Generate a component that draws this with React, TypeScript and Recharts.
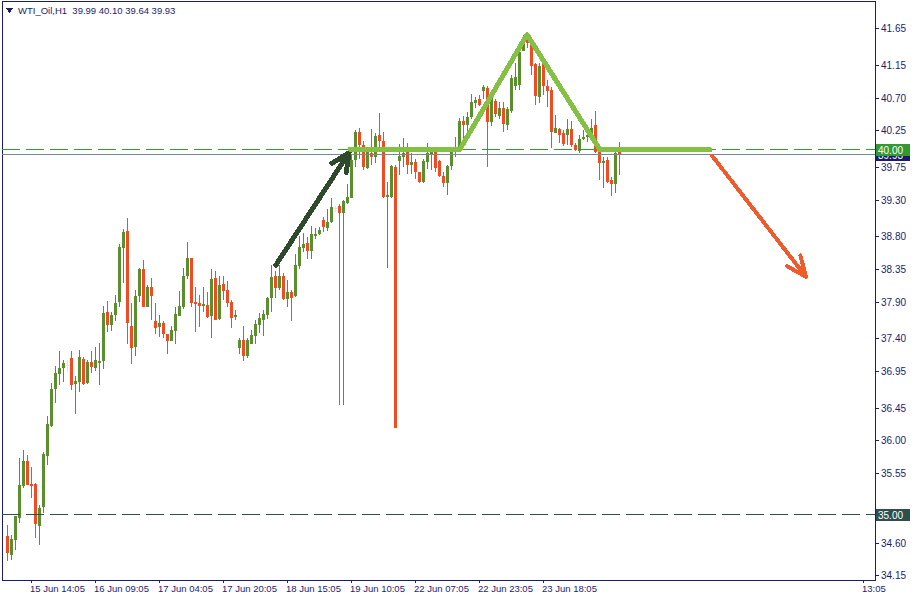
import { ComposedChart, Bar, XAxis, YAxis, ReferenceLine, ReferenceArea } from "recharts";

const opens = [
  34.70, 34.44, 34.64, 34.94, 35.38, 35.73, 35.41, 35.41, 34.84, 35.10,
  35.79, 36.21, 36.71, 36.92, 37.00, 37.04, 37.14, 36.78, 36.81, 37.12,
  36.80, 37.08, 37.00, 37.07, 37.10, 37.77, 37.59, 37.73, 37.91, 38.65,
  38.88, 37.58, 37.29, 37.98, 38.35, 37.84, 38.11, 37.64, 37.56, 37.62,
  37.47, 37.37, 37.51, 37.71, 37.83, 38.26, 38.51, 37.91, 37.89, 37.85,
  37.86, 37.71, 38.24, 37.67, 38.15, 38.07, 37.91, 37.70, 37.28, 37.39,
  37.17, 37.33, 37.44, 37.59, 37.66, 37.73, 37.96, 38.26, 38.10, 38.26,
  37.95, 38.04, 37.98, 38.40, 38.65, 38.71, 38.61, 38.81, 38.84, 39.03,
  38.92, 39.00, 39.19, 39.22, 39.13, 39.26, 39.33, 39.85, 40.24, 40.06,
  39.74, 39.95, 39.89, 40.20, 40.11, 39.35, 39.35, 39.76, 39.84, 39.89,
  39.96, 39.78, 39.83, 39.68, 39.55, 39.83, 39.92, 39.96, 39.84, 39.63,
  39.54, 39.77, 40.02, 40.02, 40.39, 40.33, 40.44, 40.63, 40.69, 40.80,
  40.84, 40.37, 40.66, 40.46, 40.57, 40.33, 40.52, 40.87, 40.88, 41.35,
  41.57, 41.46, 41.17, 40.72, 41.16, 40.87, 40.81, 40.22, 40.28, 40.22,
  40.20, 40.28, 40.06, 39.98, 40.14, 40.17, 40.19, 40.33, 39.96, 39.81,
  39.85, 39.58, 39.52, 39.99,
];

const highs = [
  34.85, 34.71, 34.97, 35.76, 35.88, 35.81, 35.64, 35.43, 35.12, 35.85,
  36.34, 36.79, 37.03, 37.23, 37.11, 37.11, 37.23, 36.89, 37.25, 37.15,
  37.11, 37.23, 37.29, 37.34, 37.85, 37.92, 37.77, 38.00, 38.70, 38.91,
  39.06, 37.89, 38.07, 38.37, 38.48, 38.14, 38.24, 37.89, 37.72, 37.65,
  37.47, 37.58, 37.83, 38.06, 38.37, 38.73, 38.51, 38.11, 38.00, 38.11,
  38.04, 38.36, 38.33, 38.26, 38.26, 38.19, 37.93, 37.80, 37.41, 37.58,
  37.41, 37.52, 37.66, 37.75, 37.80, 37.97, 38.41, 38.33, 38.41, 38.30,
  38.21, 38.07, 38.56, 38.81, 38.85, 38.80, 38.95, 38.92, 38.93, 39.07,
  39.18, 39.33, 39.22, 39.25, 39.30, 39.52, 39.92, 40.26, 40.29, 40.11,
  40.00, 40.28, 40.22, 40.50, 40.24, 39.55, 39.78, 39.78, 40.07, 40.15,
  40.09, 39.95, 39.86, 39.69, 39.86, 40.09, 40.03, 39.98, 39.85, 39.69,
  39.78, 40.02, 40.17, 40.43, 40.45, 40.51, 40.76, 40.72, 40.74, 40.88,
  40.87, 40.81, 40.69, 40.64, 40.64, 40.58, 41.02, 41.18, 41.39, 41.57,
  41.60, 41.50, 41.18, 41.18, 41.18, 40.95, 40.85, 40.47, 40.29, 40.26,
  40.41, 40.39, 40.09, 40.20, 40.26, 40.26, 40.41, 40.52, 40.02, 39.89,
  39.89, 39.62, 39.96, 40.10,
];

const lows = [
  34.36, 34.37, 34.51, 34.88, 35.36, 35.40, 35.22, 34.67, 34.57, 35.01,
  35.67, 36.19, 36.52, 36.77, 36.81, 36.94, 36.70, 36.37, 36.67, 36.77,
  36.78, 36.93, 36.96, 36.77, 36.99, 37.50, 37.51, 37.65, 37.84, 38.17,
  37.33, 37.06, 37.17, 37.91, 37.83, 37.83, 37.66, 37.47, 37.43, 37.41,
  37.19, 37.37, 37.33, 37.71, 37.81, 38.22, 37.84, 37.50, 37.56, 37.77,
  37.69, 37.41, 37.66, 37.66, 37.93, 37.84, 37.55, 37.66, 37.19, 37.10,
  37.14, 37.33, 37.33, 37.48, 37.44, 37.67, 37.77, 37.96, 38.07, 37.93,
  37.84, 37.65, 37.97, 38.35, 38.59, 38.50, 38.50, 38.77, 38.82, 38.87,
  38.88, 38.99, 39.14, 36.49, 36.49, 39.25, 39.33, 39.76, 39.87, 39.71,
  39.73, 39.78, 39.81, 40.00, 39.33, 38.37, 39.33, 36.18, 39.65, 39.76,
  39.66, 39.66, 39.59, 39.54, 39.54, 39.73, 39.72, 39.68, 39.62, 39.48,
  39.37, 39.71, 39.89, 39.99, 40.10, 40.20, 40.41, 40.57, 40.59, 40.68,
  39.76, 40.31, 40.44, 40.41, 40.24, 40.26, 40.50, 40.81, 40.81, 41.34,
  41.39, 41.02, 40.61, 40.63, 40.74, 40.58, 40.02, 40.22, 40.09, 40.04,
  40.06, 40.03, 39.98, 39.94, 40.12, 40.10, 40.12, 39.94, 39.58, 39.47,
  39.54, 39.36, 39.40, 39.64,
];

const closes = [
  34.47, 34.66, 34.97, 35.40, 35.73, 35.40, 35.38, 34.86, 35.08, 35.82,
  36.23, 36.71, 36.93, 37.00, 37.07, 37.04, 36.77, 36.82, 37.15, 36.78,
  37.08, 37.01, 37.11, 37.10, 37.76, 37.59, 37.73, 37.89, 38.66, 38.86,
  37.62, 37.28, 37.98, 38.35, 37.83, 38.11, 37.99, 37.55, 37.62, 37.47,
  37.37, 37.52, 37.74, 37.85, 38.26, 38.51, 37.89, 37.88, 37.85, 37.88,
  37.70, 38.22, 37.66, 38.14, 38.06, 37.89, 37.69, 37.73, 37.39, 37.17,
  37.39, 37.45, 37.60, 37.68, 37.74, 37.96, 38.25, 38.10, 38.26, 37.95,
  38.04, 37.96, 38.41, 38.66, 38.70, 38.61, 38.84, 38.84, 38.89, 38.93,
  39.00, 39.21, 39.19, 39.13, 39.29, 39.35, 39.85, 40.24, 40.06, 39.76,
  39.99, 39.89, 40.18, 40.11, 39.35, 39.37, 39.77, 36.18, 39.91, 39.95,
  39.78, 39.83, 39.68, 39.55, 39.84, 39.95, 39.96, 39.74, 39.63, 39.54,
  39.77, 39.96, 39.96, 40.39, 40.33, 40.44, 40.65, 40.67, 40.61, 40.85,
  40.37, 40.77, 40.48, 40.57, 40.35, 40.55, 40.98, 40.99, 41.33, 41.53,
  41.46, 41.14, 40.73, 41.14, 40.87, 40.79, 40.24, 40.29, 40.20, 40.07,
  40.28, 40.06, 39.99, 40.14, 40.17, 40.19, 40.29, 39.96, 39.81, 39.84,
  39.55, 39.52, 39.95, 39.93,
];

// bar index of each time label
const timeTicks = [6, 22, 38, 54, 70, 86, 102, 118, 134, 214];
const timeLabels = [
  "15 Jun 14:05", "16 Jun 09:05", "17 Jun 04:05", "17 Jun 20:05", "18 Jun 15:05",
  "19 Jun 10:05", "22 Jun 07:05", "22 Jun 23:05", "23 Jun 18:05", "13:05",
];
const priceTicks = [
  34.15, 34.60, 35.55, 36.00, 36.45, 36.95, 37.40, 37.90, 38.35,
  38.80, 39.30, 39.75, 40.25, 40.70, 41.15, 41.65,
];

const bid = 39.93;
const upperLevel = 40.0;
const lowerLevel = 35.0;

// hand-drawn lines: [bar index, price]
const risePath = [[67.2, 38.41], [85.5, 39.95]];
const topPath = [[85.75, 40.0], [113.25, 40.0], [130, 41.57], [148.25, 39.99], [175.75, 39.99]];
const fallPath = [[176.25, 39.91], [199.75, 38.25]];

const xDomain = [-1.25, 217];
const yDomain = [34.094, 42.03];

const NAVY = "#1c1c6e";
const UP = "#5b8f2d";
const DOWN = "#f24a22";
const FONT = '"Liberation Sans", Arial, sans-serif';

const candles = opens.map((o, i) => ({
  i,
  open: o,
  high: highs[i],
  low: lows[i],
  close: closes[i],
}));

const Candle = (props: any) => {
  const { x, y, width, height, payload } = props;
  if (x == null || y == null || !payload) return null;
  const { open, close, high, low } = payload;
  const top = Math.min(y, y + height);
  const span = Math.abs(height);
  const py = (v: number) => top + ((high - v) / (high - low || 1)) * span;
  const cx = Math.round(x + width / 2);
  const color = close > open ? UP : close < open ? DOWN : "#f8dccb";
  const wTop = Math.round(top);
  const wBot = Math.round(top + span);
  const bTop = Math.round(py(Math.max(open, close)));
  const bBot = Math.round(py(Math.min(open, close)));
  return (
    <g>
      <rect x={cx} y={wTop} width={1} height={Math.max(1, wBot - wTop)} fill={color} />
      <rect x={cx - 1} y={bTop} width={3} height={Math.max(1, bBot - bTop)} fill={color} />
    </g>
  );
};

const arrow = (color: string, w: number, head: number, spread: number) => (p: any) => {
  const { x1, y1, x2, y2 } = p;
  const a = Math.atan2(y2 - y1, x2 - x1);
  const l = [x2 - head * Math.cos(a - spread), y2 - head * Math.sin(a - spread)];
  const r = [x2 - head * Math.cos(a + spread), y2 - head * Math.sin(a + spread)];
  return (
    <g>
      <line x1={x1} y1={y1} x2={x2} y2={y2} stroke={color} strokeWidth={w} strokeLinecap="round" />
      <polyline
        points={`${l[0]},${l[1]} ${x2},${y2} ${r[0]},${r[1]}`}
        fill="none"
        stroke={color}
        strokeWidth={w}
        strokeLinecap="round"
        strokeLinejoin="round"
      />
    </g>
  );
};

// horizontal level with its price tag on the right axis
const level = (color: string, tag: string, text: string, dash?: string) => (p: any) => {
  const { x1, y1, x2 } = p;
  const left = Math.min(x1, x2);
  const right = Math.max(x1, x2);
  const yy = Math.round(y1);
  return (
    <g>
      <line x1={left} y1={yy + 0.5} x2={right} y2={yy + 0.5} stroke={color} strokeDasharray={dash} />
      <rect x={right + 1} y={yy - 5} width={34} height={12} fill={tag} />
      <text x={right + 3} y={yy + 1} dy="0.355em" fill="#ffffff" fontSize={10} fontFamily={FONT}>
        {text}
      </text>
    </g>
  );
};

const TimeTick = (p: any) => {
  const { x, y, payload } = p;
  const k = timeTicks.indexOf(payload.value);
  return (
    <text x={x - 1} y={y} dy="0.71em" fill={NAVY} fontSize={9.5} fontFamily={FONT}>
      {k >= 0 ? timeLabels[k] : ""}
    </text>
  );
};

const pt = (q: number[]) => ({ x: q[0], y: q[1] });

export default function App() {
  return (
    <div style={{ position: "absolute", left: 0, top: 0, width: 915, height: 600, background: "#ffffff", shapeRendering: "crispEdges" }}>
      <ComposedChart
        width={915}
        height={600}
        data={candles}
        margin={{ top: 1, right: 0, bottom: 0, left: 2 }}
      >
        <XAxis
          dataKey="i"
          type="number"
          domain={xDomain}
          allowDataOverflow
          ticks={timeTicks}
          interval={0}
          height={20}
          tickSize={3}
          tickMargin={2}
          axisLine={{ stroke: NAVY }}
          tickLine={{ stroke: NAVY }}
          tick={<TimeTick />}
        />
        <YAxis
          orientation="right"
          type="number"
          domain={yDomain}
          allowDataOverflow
          ticks={priceTicks}
          interval={0}
          width={40}
          tickSize={4}
          tickMargin={2}
          axisLine={{ stroke: NAVY }}
          tickLine={{ stroke: NAVY }}
          tick={{ fill: NAVY, fontSize: 10, fontFamily: FONT }}
          tickFormatter={(v: number) => v.toFixed(2)}
        />
        <ReferenceArea
          x1={xDomain[0]}
          x2={xDomain[1]}
          y1={yDomain[0]}
          y2={yDomain[1]}
          fill="none"
          stroke={NAVY}
          ifOverflow="visible"
        />
        <ReferenceLine y={lowerLevel} shape={level("#2f4f4f", "#2f4f4f", "35.00", "18 6")} />
        <Bar
          dataKey={(d: any) => [d.low, d.high]}
          barSize={3}
          shape={<Candle />}
          isAnimationActive={false}
        />
        <ReferenceLine y={bid} shape={level("#778899", "#191970", "39.93")} />
        <ReferenceLine y={upperLevel} shape={level("#339933", "#339933", "40.00", "18 6")} />
        <ReferenceLine
          segment={[pt(risePath[0]), pt(risePath[1])]}
          ifOverflow="visible"
          shape={arrow("#2e4a2a", 5, 20, 0.44)}
        />
        {topPath.slice(1).map((q, k) => (
          <ReferenceLine
            key={k}
            segment={[pt(topPath[k]), pt(q)]}
            ifOverflow="visible"
            stroke="#84c043"
            strokeWidth={5}
            strokeLinecap="round"
          />
        ))}
        <ReferenceLine
          segment={[pt(fallPath[0]), pt(fallPath[1])]}
          ifOverflow="visible"
          shape={arrow("#f15a2b", 4, 22, 0.4)}
        />
      </ComposedChart>
      <svg style={{ position: "absolute", left: 6, top: 8 }} width={8} height={6}>
        <polygon points="0,0 7,0 3.5,5" fill={NAVY} />
      </svg>
      <div
        style={{
          position: "absolute",
          left: 18,
          top: 5,
          fontFamily: FONT,
          fontSize: 9.5,
          color: NAVY,
          whiteSpace: "pre",
        }}
      >
        {"WTI_Oil,H1  39.99 40.10 39.64 39.93"}
      </div>
    </div>
  );
}
